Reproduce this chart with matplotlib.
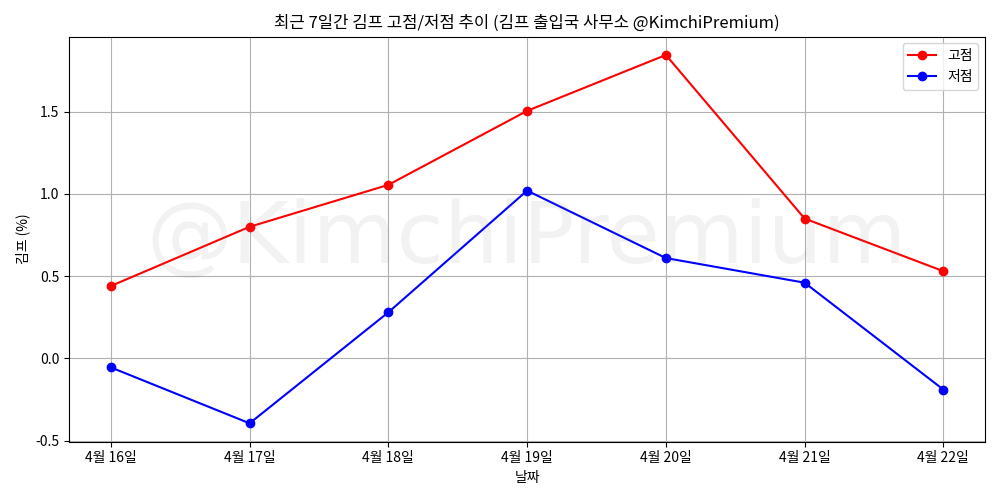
import matplotlib
matplotlib.use('Agg')
import matplotlib.pyplot as plt

plt.rcParams['font.family'] = ['Noto Sans CJK KR', 'DejaVu Sans']
plt.rcParams['axes.unicode_minus'] = False

dates = ['4월 16일', '4월 17일', '4월 18일', '4월 19일', '4월 20일', '4월 21일', '4월 22일']
high = [0.44, 0.80, 1.055, 1.505, 1.845, 0.85, 0.53]
low = [-0.055, -0.395, 0.28, 1.02, 0.61, 0.46, -0.19]

fig, ax = plt.subplots(figsize=(10, 5), dpi=100)
ax.plot(dates, high, color='red', marker='o', label='고점')
ax.plot(dates, low, color='blue', marker='o', label='저점')

ax.set_title('최근 7일간 김프 고점/저점 추이 (김프 출입국 사무소 @KimchiPremium)')
ax.set_xlabel('날짜')
ax.set_ylabel('김프 (%)')
ax.grid(True)
ax.legend(loc='upper right')
plt.tight_layout()

# watermark added after layout so it doesn't shrink the axes
ax.text(0.5, 0.5, '@KimchiPremium', transform=ax.transAxes, fontsize=62,
        color='gray', alpha=0.1, ha='center', va='center', family='DejaVu Sans')
plt.savefig('out.png')
